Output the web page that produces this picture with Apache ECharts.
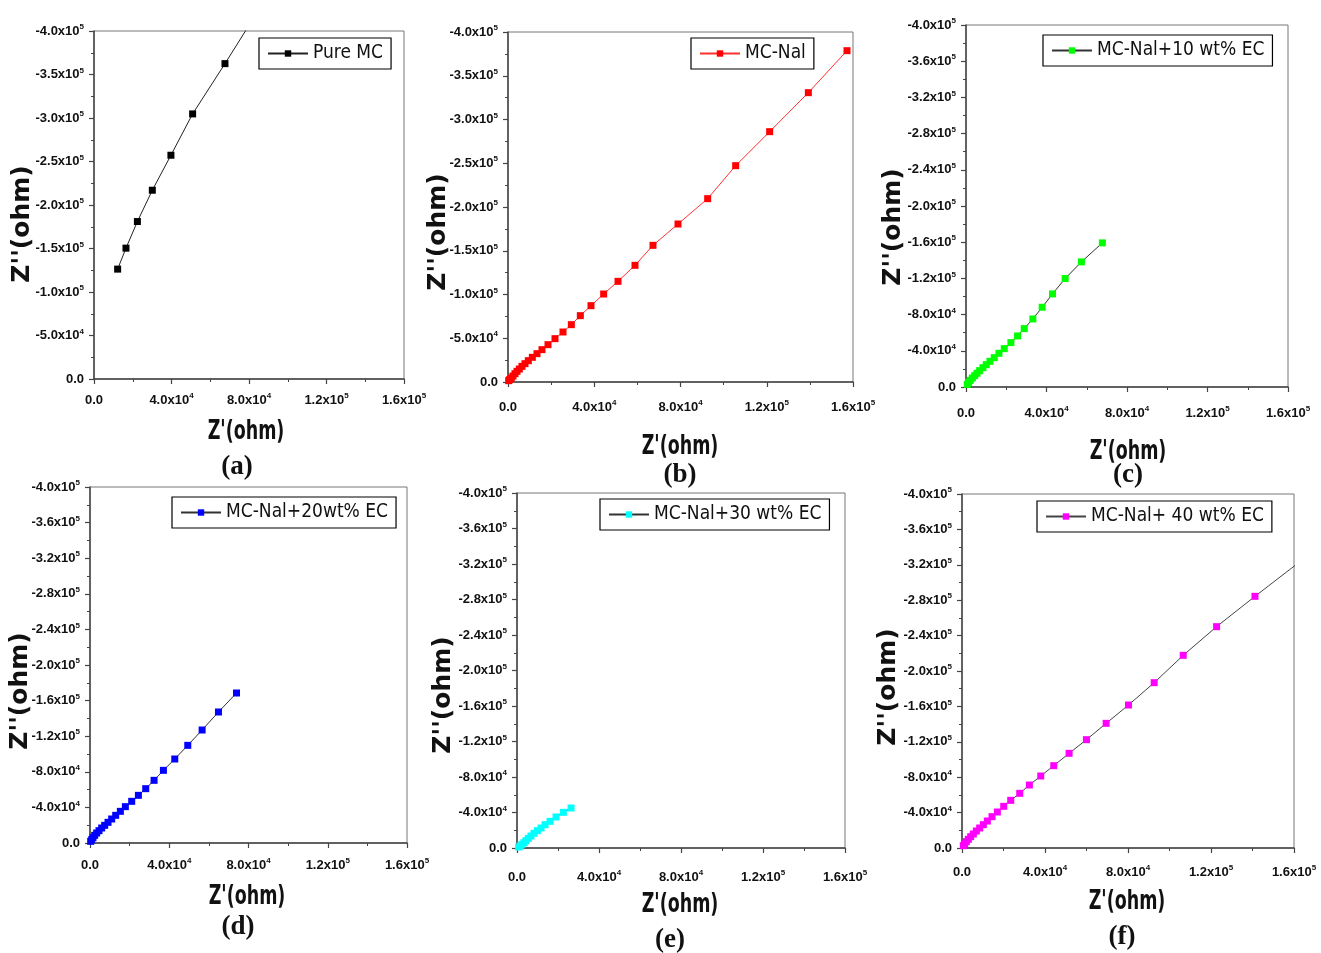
<!DOCTYPE html>
<html>
<head>
<meta charset="utf-8">
<script src="https://cdn.jsdelivr.net/npm/echarts@6/dist/echarts.min.js"></script>
<style>
html,body{margin:0;padding:0;background:#fff;}
#chart{width:1321px;height:953px;}
</style>
</head>
<body>
<div id="chart"></div>
<script>
// ---- Data (Z' in ohm, Z'' in ohm) ----
const seriesNames = ['Pure MC', 'MC-Nal', 'MC-Nal+10 wt% EC', 'MC-Nal+20wt% EC', 'MC-Nal+30 wt% EC', 'MC-Nal+ 40 wt% EC'];
const panelLabels = ['(a)', '(b)', '(c)', '(d)', '(e)', '(f)'];

const pureMC_x = [12200, 16500, 22400, 30100, 39700, 50900, 67600, 90000];
const pureMC_y = [-126300, -150400, -181000, -217000, -257200, -304700, -362500, -442000];

const mcNal_x = [309, 773, 1546, 2319, 3246, 4174, 5256, 6493, 7884, 9430, 11285, 13449, 15768, 18551, 21797, 25507, 29372, 33546, 38493, 44367, 51014, 58899, 67246, 78840, 92600, 105584, 121353, 139285, 157217];
const mcNal_y = [-1524, -2667, -4571, -6857, -9524, -12190, -14857, -17905, -20952, -24381, -28190, -32381, -36952, -42667, -49524, -57143, -65524, -75810, -87238, -100571, -115048, -133333, -156190, -180571, -209524, -247238, -286095, -330667, -378667];

const ec10_x = [661, 1322, 2149, 3140, 4298, 5455, 6777, 8430, 10083, 11901, 14050, 16364, 19008, 22314, 25620, 28926, 33223, 37851, 42975, 49256, 57355, 67769];
const ec10_y = [-2949, -5161, -7373, -9954, -12535, -15115, -18065, -21382, -24700, -28387, -32442, -37235, -42396, -49032, -56406, -64516, -75207, -88111, -102857, -119816, -138249, -159263];

const ec20_x = [337, 842, 1516, 2358, 3368, 4547, 5895, 7411, 9095, 10947, 12968, 15326, 17853, 21053, 24421, 28126, 32337, 37053, 42779, 49347, 56589, 64842, 73937];
const ec20_y = [-1873, -3745, -5993, -8614, -11236, -13858, -16854, -19850, -23221, -26966, -31086, -35581, -40824, -46816, -53558, -61049, -70412, -81648, -94382, -109738, -126966, -147191, -168539];

const ec30_x = [814, 1628, 2442, 3418, 4395, 5534, 6836, 8301, 9929, 11719, 13673, 16114, 19044, 22625, 26368];
const ec30_y = [-1127, -2254, -4131, -6009, -8263, -10892, -13521, -16526, -19531, -22535, -26291, -30047, -34930, -40188, -45070];

const ec40_x = [643, 1286, 2090, 3055, 4181, 5467, 6915, 8523, 10291, 12221, 14472, 17045, 20101, 23477, 27819, 32482, 37950, 44221, 51618, 59980, 69467, 80241, 92623, 106613, 122693, 141186, 172000];
const ec40_y = [-2637, -4896, -7156, -9793, -12806, -15819, -19209, -22599, -26365, -30508, -35405, -40678, -47081, -53861, -61770, -71186, -81356, -93032, -106968, -122411, -140866, -161582, -186817, -217702, -250094, -284369, -340000];

const xTickStep = 40000;
const yTickSteps = [50000, 50000, 40000, 40000, 40000, 40000];
const xMax = 160000;
const yMin = -400000;

const markerColors = ['#000000', '#ff0000', '#00ff00', '#0000ff', '#00ffff', '#ff00ff'];
const lineColors = ['#222222', '#ff3030', '#333333', '#333333', '#333333', '#444444'];

const xs = [pureMC_x, mcNal_x, ec10_x, ec20_x, ec30_x, ec40_x];
const ys = [pureMC_y, mcNal_y, ec10_y, ec20_y, ec30_y, ec40_y];

// ---- Layout ----
const grids = [
  {left: 94, top: 31, width: 310, height: 348},
  {left: 508, top: 32, width: 345, height: 350},
  {left: 966, top: 25, width: 322, height: 362},
  {left: 90, top: 487, width: 317, height: 356},
  {left: 517, top: 493, width: 328, height: 355},
  {left: 962, top: 494, width: 332, height: 354}
];
const xLabelMargins = [13, 17, 18, 14, 21, 16];
const legendPos = [
  {left: 259, top: 38},
  {left: 691, top: 38},
  {left: 1043, top: 35},
  {left: 172, top: 497},
  {left: 600, top: 499},
  {left: 1037, top: 501}
];
const yTitlePos = [[22, 224], [438, 232], [893, 227], [20, 691], [443, 695], [888, 687]];
const xTitlePos = [[246, 432], [680, 447], [1128, 452], [247, 897], [680, 905], [1127, 902]];
const subLabelPos = [[237, 467], [680, 475], [1128, 475], [238, 927], [670, 940], [1122, 937]];

const tickFont = "'Liberation Sans Narrow', 'Liberation Sans', Arial, sans-serif";
const narrowFont = "'Liberation Sans Narrow', 'DejaVu Sans Condensed', sans-serif";

function sci(v) {
  if (Math.abs(v) < 1e-9) return '{m|0.0}';
  const e = Math.floor(Math.log10(Math.abs(v)) + 1e-9);
  const m = v / Math.pow(10, e);
  return '{m|' + m.toFixed(1) + 'x10}{s|' + e + '}';
}
const labelRich = {
  m: {fontSize: 13, fontWeight: 'bold', fontFamily: tickFont, color: '#111', lineHeight: 16},
  s: {fontSize: 8, fontWeight: 'bold', fontFamily: tickFont, color: '#111', verticalAlign: 'top', lineHeight: 16, padding: [0, 0, 8, 0]}
};

const option = {
  backgroundColor: '#ffffff',
  animation: false,
  grid: [], xAxis: [], yAxis: [], series: [], legend: [], graphic: []
};

for (let i = 0; i < 6; i++) {
  option.grid.push(Object.assign({show: true, borderColor: '#777', borderWidth: 1, backgroundColor: 'transparent'}, grids[i]));
  option.xAxis.push({
    type: 'value', gridIndex: i, min: 0, max: xMax, interval: xTickStep,
    axisLine: {show: true, onZero: false, lineStyle: {color: '#444', width: 1.5}},
    axisTick: {show: true, inside: false, length: 5, lineStyle: {color: '#444', width: 1.2}},
    minorTick: {show: true, splitNumber: 2, length: 3, lineStyle: {color: '#444', width: 1}},
    splitLine: {show: false},
    axisLabel: {margin: xLabelMargins[i], formatter: sci, rich: labelRich}
  });
  option.yAxis.push({
    type: 'value', gridIndex: i, min: yMin, max: 0, interval: yTickSteps[i], inverse: true,
    axisLine: {show: true, onZero: false, lineStyle: {color: '#444', width: 1.5}},
    axisTick: {show: true, inside: false, length: 5, lineStyle: {color: '#444', width: 1.2}},
    minorTick: {show: true, splitNumber: 2, length: 3, lineStyle: {color: '#444', width: 1}},
    splitLine: {show: false},
    axisLabel: {margin: 10, formatter: sci, rich: labelRich}
  });
  const data = xs[i].map((x, k) => [x, ys[i][k]]);
  option.series.push({
    name: seriesNames[i], type: 'line', xAxisIndex: i, yAxisIndex: i,
    data: data, symbol: 'rect', symbolSize: 7, clip: true,
    lineStyle: {color: lineColors[i], width: 1},
    itemStyle: {color: markerColors[i]}
  });
  option.legend.push({
    data: [seriesNames[i]], left: legendPos[i].left, top: legendPos[i].top,
    orient: 'horizontal', borderColor: '#000', borderWidth: 1.2, padding: [6, 8, 6, 8],
    itemWidth: 40, itemHeight: 8, selectedMode: false,
    textStyle: {fontSize: 19, fontFamily: narrowFont, color: '#111'}
  });
  option.graphic.push({
    type: 'text', x: yTitlePos[i][0], y: yTitlePos[i][1], rotation: Math.PI / 2,
    style: {text: "Z''(ohm)", font: "bold 25px 'DejaVu Sans', sans-serif", fill: '#111', align: 'center', verticalAlign: 'middle'}
  });
  option.graphic.push({
    type: 'text', x: xTitlePos[i][0], y: xTitlePos[i][1], scaleX: 0.72,
    style: {text: "Z'(ohm)", font: "bold 27px " + narrowFont, fill: '#111', align: 'center', verticalAlign: 'middle'}
  });
  option.graphic.push({
    type: 'text', x: subLabelPos[i][0], y: subLabelPos[i][1],
    style: {text: panelLabels[i], font: "bold 27px 'Liberation Serif', 'DejaVu Serif', serif", fill: '#111', align: 'center', verticalAlign: 'middle'}
  });
}

const chart = echarts.init(document.getElementById('chart'), null, {renderer: 'canvas'});
chart.setOption(option);
</script>
</body>
</html>
